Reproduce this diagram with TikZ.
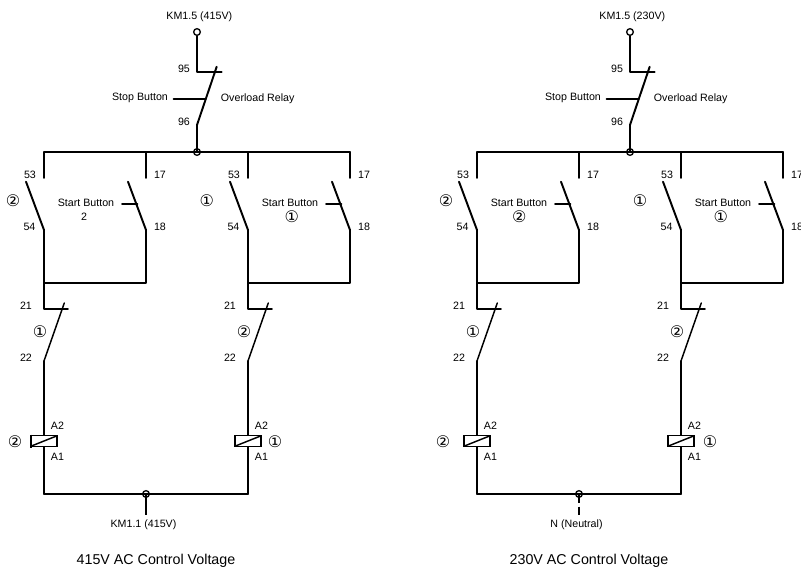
\documentclass[tikz,border=0pt]{standalone}
\usepackage{fontspec}
\setmainfont{Liberation Sans}
\newfontfamily\symfont{DejaVu Sans}
\tikzset{
    wire/.style={line width=1.45pt,line cap=round,line join=round},
    thinwire/.style={line width=1.1pt,line cap=round},
    terminal/.style={draw,circle,line width=1pt,inner sep=0pt,minimum size=5pt},
    coilbox/.style={draw,line width=1.3pt,inner sep=0pt,minimum width=19.5pt,minimum height=8.2pt},
    lbl/.style={inner sep=0pt,font=\fontsize{8}{9}\selectfont},
    titlelbl/.style={inner sep=0pt,font=\fontsize{10.7}{12}\selectfont},
    tag/.style={inner sep=0pt,font=\symfont\fontsize{12}{13}\selectfont},
    solidstub/.style={},
    neutralstub/.style={dash pattern=on 6.5pt off 3pt on 20pt}
}
\begin{document}
\begin{tikzpicture}[x=0.75pt,y=-0.75pt]
    \useasboundingbox (0,0) rectangle (801,567);
    \foreach \c/\dx/\toplbl/\botlbl/\titletext/\stub in {%
        a/0/KM1.5 (415V)/KM1.1 (415V)/415V AC Control Voltage/solidstub,%
        b/433/KM1.5 (230V)/N (Neutral)/230V AC Control Voltage/neutralstub}{
    \begin{scope}[shift={(\dx,0)},name prefix=\c-]
        % overload relay and stop button
        \node[terminal,fill=white] (term) at (197,32){};
        \node[terminal] (jtop) at (197,152){};
        \coordinate (c95) at (197,72);
        \coordinate (c95end) at (221.7,72);
        \coordinate (bladetop) at (216.7,66.7);
        \coordinate (c96) at (197,125);
        \coordinate (stopa) at (173.5,99);
        \coordinate (stopb) at (205.6,99);
        \draw[wire] (term) -- (c95) -- (c95end);
        \draw[wire] (bladetop) -- (c96) -- (jtop.center);
        \draw[wire] (stopa) -- (stopb);
        \node[lbl] (toplbl) at (199.3,17){\toplbl};
        \node[lbl] (l95) at (184,69){95};
        \node[lbl] (l96) at (184,122){96};
        \node[lbl] (stoplbl) at (140,98){Stop Button};
        \node[lbl] (ollbl) at (257.7,99){Overload Relay};

        % the two branches
        \foreach \b/\bx in {p/44,q/248}{
            \coordinate (\b bus) at (\bx,152);
            \coordinate (\b s1) at (\bx,178);
            \coordinate (\b s2) at (\bx-18,181.7);
            \coordinate (\b s3) at (\bx,230);
            \coordinate (\b n1) at (\bx,283);
            \coordinate (\b n2) at (\bx,309);
            \coordinate (\b n3) at (\bx+24,309);
            \coordinate (\b n4) at (\bx+20.3,303);
            \coordinate (\b n5) at (\bx,361);
            \coordinate (\b bot) at (\bx,494);
            \coordinate (\b busr) at (\bx+102,152);
            \coordinate (\b r1) at (\bx+102,178);
            \coordinate (\b r2) at (\bx+84,181.7);
            \coordinate (\b r3) at (\bx+102,230);
            \coordinate (\b r4) at (\bx+102,283);
            \coordinate (\b pba) at (\bx+78,204);
            \coordinate (\b pbb) at (\bx+93.5,204);
            \node[coilbox] (\b coil) at (\bx,441){};

            \draw[wire] (\b bus) -- (\b s1);
            \draw[wire] (\b s2) -- (\b s3) -- (\b n2) -- (\b n3);
            \draw[wire] (\b busr) -- (\b r1);
            \draw[wire] (\b r2) -- (\b r3) -- (\b r4) -- (\b n1);
            \draw[wire] (\b pba) -- (\b pbb);
            \draw[thinwire] (\b n4) -- (\b n5);
            \draw[wire] (\b n5) -- (\b coil.north);
            \draw[wire] (\b coil.south) -- (\b bot);
            \draw[thinwire] ([shift={(1.5pt,1.2pt)}]\b coil.south west) -- ([shift={(-1.5pt,-1.2pt)}]\b coil.north east);

            \node[lbl] (\b l53) at (\bx-14,174.5){53};
            \node[lbl] (\b l54) at (\bx-14.5,226.7){54};
            \node[lbl] (\b l17) at (\bx+116,174.5){17};
            \node[lbl] (\b l18) at (\bx+116,226.7){18};
            \node[lbl] (\b sb) at (\bx+42,203){Start Button};
            \node[lbl] (\b l21) at (\bx-18,305.7){21};
            \node[lbl] (\b l22) at (\bx-18,358){22};
            \node[lbl] (\b a2) at (\bx+13.5,426){A2};
            \node[lbl] (\b a1) at (\bx+13.5,456.7){A1};
        }
        \draw[wire] (pbus) -- (qbusr);
        \draw[wire] (pbot) -- (qbot);

        % lower feed and caption
        \node[terminal] (jbot) at (146,494){};
        \coordinate (stubend) at (146,515);
        \draw[wire,line cap=butt,\stub] (jbot.center) -- (stubend);
        \node[lbl] (botlbl) at (143.5,525){\botlbl};
        \node[titlelbl] (title) at (156,561){\titletext};
    \end{scope}
    }
    % thicker left edge of the first coil
    \coordinate (edgea) at (31,434.5);
    \coordinate (edgeb) at (31,447.5);
    \draw[line width=2pt] (edgea) -- (edgeb);

    \node[lbl] (plain2) at (84,217){2};
    \node[tag] (tag1) at (13,200.5){②};
    \node[tag] (tag2) at (206.7,200.5){①};
    \node[tag] (tag3) at (291.7,216.7){①};
    \node[tag] (tag4) at (40,331.7){①};
    \node[tag] (tag5) at (244,331.7){②};
    \node[tag] (tag6) at (15,442){②};
    \node[tag] (tag7) at (275,442){①};
    \node[tag] (tag8) at (446,200.5){②};
    \node[tag] (tag9) at (640,200.5){①};
    \node[tag] (tag10) at (519.3,216.7){②};
    \node[tag] (tag11) at (720.7,216.7){①};
    \node[tag] (tag12) at (473,331.7){①};
    \node[tag] (tag13) at (677,331.7){②};
    \node[tag] (tag14) at (443,442){②};
    \node[tag] (tag15) at (710,442){①};
\end{tikzpicture}
\end{document}
